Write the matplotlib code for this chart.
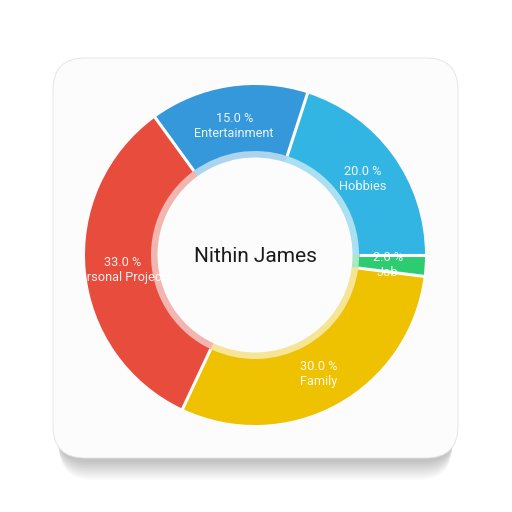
import numpy as np
import matplotlib.pyplot as plt
from matplotlib.patches import FancyBboxPatch

plt.rcParams['font.family'] = ['Roboto', 'DejaVu Sans']

# slices, clockwise starting at 3 o'clock
labels = ['Job', 'Family', 'Personal Projects', 'Entertainment', 'Hobbies']
shares = [2.0, 30.0, 33.0, 15.0, 20.0]
colors = ['#2ECC71', '#EEC200', '#E74C3C', '#3498DB', '#33B5E3']
center_title = 'Nithin James'

fig = plt.figure(figsize=(5.12, 5.12), dpi=100)
ax = fig.add_axes([0, 0, 1, 1])

# card with soft shadow
for i in range(12):
    sh = FancyBboxPatch((56 + i * 0.3, 50 - i * 1.6), 399 - i * 0.6, 400,
                        boxstyle='round,pad=0,rounding_size=32',
                        facecolor='black', edgecolor='none', alpha=0.018, zorder=1)
    ax.add_patch(sh)
card = FancyBboxPatch((53, 54), 405, 400, boxstyle='round,pad=0,rounding_size=32',
                      facecolor='#FCFCFC', edgecolor='#E2E2E2', linewidth=0.6, zorder=2)
ax.add_patch(card)

cx, cy = 255, 257
wedges, _ = ax.pie(shares, colors=colors, startangle=0, counterclock=False,
                   radius=170, center=(cx, cy),
                   wedgeprops=dict(width=66, edgecolor='none', linewidth=0))
for w in wedges:
    w.set_zorder(3)

# lighter inner band
inner, _ = ax.pie(shares, colors=colors, startangle=0, counterclock=False,
                  radius=104.5, center=(cx, cy),
                  wedgeprops=dict(width=7, edgecolor='none', linewidth=0, alpha=0.4))
for w in inner:
    w.set_zorder(3)

# white separators between slices
ang = 0.0
for val in shares:
    a = np.deg2rad(ang)
    ax.plot([cx + 104 * np.cos(a), cx + 172 * np.cos(a)],
            [cy + 104 * np.sin(a), cy + 172 * np.sin(a)],
            color='white', linewidth=2.2, zorder=3.5, solid_capstyle='butt')
    ang -= val * 3.6

# slice labels
start = 0.0
for lab, val in zip(labels, shares):
    mid = np.deg2rad(start - val * 3.6 / 2)
    start -= val * 3.6
    r = 133
    ax.text(cx + r * np.cos(mid), cy + r * np.sin(mid) - 2, '%.1f %%\n%s' % (val, lab),
            ha='center', va='center', color='white', alpha=0.9, fontsize=9.2,
            linespacing=1.2, zorder=4)

ax.text(cx, cy - 2, center_title, ha='center', va='center', fontsize=15,
        color='#1A1A1A', zorder=4)

ax.set_xlim(0, 512)
ax.set_ylim(0, 512)
ax.set_aspect('equal')
ax.axis('off')
fig.savefig('out.png', dpi=100, facecolor='white')
